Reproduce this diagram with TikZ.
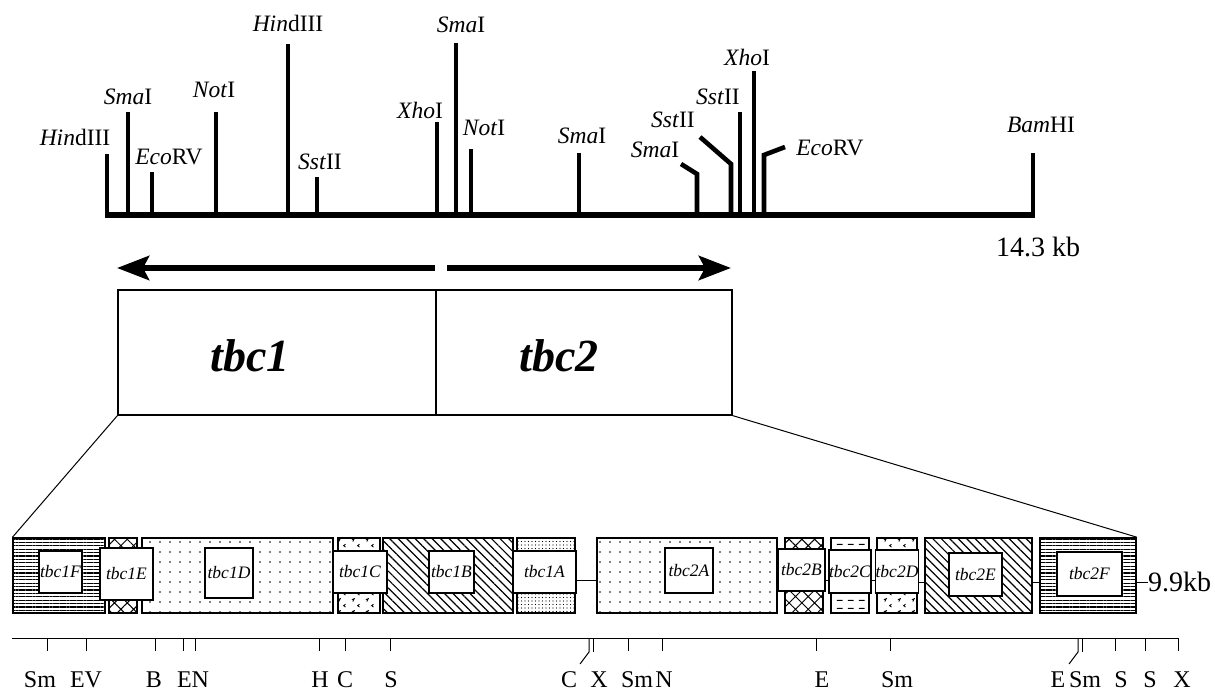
\documentclass[tikz,border=0pt]{standalone}
\usepackage{fontspec}
\setmainfont{Liberation Serif}
\usetikzlibrary{arrows.meta,patterns,patterns.meta}

\pgfdeclarepatternformonly{wavymarks}{\pgfqpoint{0pt}{0pt}}{\pgfqpoint{14pt}{12pt}}{\pgfqpoint{14pt}{12pt}}{%
  \pgfsetlinewidth{0.9pt}%
  \pgfpathmoveto{\pgfqpoint{2pt}{9pt}}\pgfpathlineto{\pgfqpoint{4.5pt}{10pt}}\pgfpathlineto{\pgfqpoint{3pt}{7pt}}%
  \pgfpathmoveto{\pgfqpoint{10pt}{4pt}}\pgfpathlineto{\pgfqpoint{8pt}{2.5pt}}\pgfpathlineto{\pgfqpoint{10pt}{1pt}}%
  \pgfusepath{stroke}}
\pgfdeclarepatternformonly{dashrows}{\pgfqpoint{0pt}{0pt}}{\pgfqpoint{11pt}{8pt}}{\pgfqpoint{11pt}{8pt}}{%
  \pgfsetlinewidth{1.3pt}%
  \pgfpathmoveto{\pgfqpoint{1pt}{4pt}}\pgfpathlineto{\pgfqpoint{7pt}{4pt}}\pgfusepath{stroke}}

\begin{document}
\begin{tikzpicture}[x=1pt,y=-1pt,
  sitetick/.style={line width=4.6pt, line join=miter},
  sitelabel/.style={font=\fontsize{23.5}{23.5}\selectfont, inner sep=0pt},
  bigbox/.style={draw, line width=1.2pt, minimum height=125pt, inner sep=0pt},
  biglabel/.style={inner sep=0pt, font=\fontsize{46}{46}\selectfont\bfseries\itshape},
  bigarrow/.style={line width=6pt, -{Stealth[length=32pt,width=24pt,inset=6pt]}},
  genebox/.style={draw, line width=1.6pt, minimum height=75pt, inner sep=0pt},
  genelabel/.style={draw, fill=white, line width=1.4pt, inner sep=0pt,
                    font=\fontsize{17.5}{17.5}\selectfont\itshape},
  hlines/.style={pattern={Lines[angle=0,distance=3.4pt,line width=1.3pt]}},
  nwlines/.style={pattern={Lines[angle=-45,distance=6pt,line width=1.2pt]}},
  xhatch/.style={pattern={Hatch[angle=45,distance=9pt,line width=1pt]}},
  sparsedots/.style={pattern={Dots[distance=10pt,radius=0.8pt]}},
  finedots/.style={pattern={Dots[distance=3.5pt,radius=0.6pt]}},
  wavy/.style={pattern=wavymarks},
  dashes/.style={pattern=dashrows},
  conn/.style={line width=1pt},
  scaleline/.style={line width=0.8pt},
  scaletick/.style={line width=1pt},
  scalelabel/.style={font=\fontsize{24}{24}\selectfont, inner sep=0pt},
  kblabel/.style={font=\fontsize{28}{28}\selectfont, inner sep=0pt}
]
\useasboundingbox (0,0) rectangle (1215,692);

% ---------- restriction map ----------
\draw[line width=6pt] (105,215) -- (1035,215);
\draw[sitetick] (107,215) -- (107,154);
\draw[sitetick] (128,215) -- (128,112);
\draw[sitetick] (152,215) -- (152,172);
\draw[sitetick] (216,215) -- (216,112);
\draw[sitetick] (288,215) -- (288,44);
\draw[sitetick] (317,215) -- (317,177);
\draw[sitetick] (437,215) -- (437,122);
\draw[sitetick] (456,215) -- (456,43);
\draw[sitetick] (471,215) -- (471,149);
\draw[sitetick] (579,215) -- (579,153);
\draw[sitetick] (697,215) -- (697,174) -- (681,164);
\draw[sitetick] (731,215) -- (731,164) -- (700,137);
\draw[sitetick] (740,215) -- (740,112);
\draw[sitetick] (754,215) -- (754,71);
\draw[sitetick] (764,215) -- (764,155) -- (785,147);
\draw[sitetick] (1033,215) -- (1033,153);

\node[sitelabel] (s1)  at (75,137)  {\textit{Hin}dIII};
\node[sitelabel] (s2)  at (128,97)  {\textit{Sma}I};
\node[sitelabel] (s3)  at (169,157) {\textit{Eco}RV};
\node[sitelabel] (s4)  at (214,90)  {\textit{Not}I};
\node[sitelabel] (s5)  at (288,23)  {\textit{Hin}dIII};
\node[sitelabel] (s6)  at (320,162) {\textit{Sst}II};
\node[sitelabel] (s7)  at (420,110) {\textit{Xho}I};
\node[sitelabel] (s8)  at (461,25)  {\textit{Sma}I};
\node[sitelabel] (s9)  at (484,128) {\textit{Not}I};
\node[sitelabel] (s10) at (582,136) {\textit{Sma}I};
\node[sitelabel] (s11) at (655,150) {\textit{Sma}I};
\node[sitelabel] (s12) at (673,120) {\textit{Sst}II};
\node[sitelabel] (s13) at (718,97)  {\textit{Sst}II};
\node[sitelabel] (s14) at (747,57)  {\textit{Xho}I};
\node[sitelabel] (s15) at (830,148) {\textit{Eco}RV};
\node[sitelabel] (s16) at (1041,125) {\textit{Bam}HI};
\node[kblabel] (kb143) at (1038,247) {14.3 kb};

% ---------- transcription arrows ----------
\coordinate (aL) at (117,268);
\coordinate (aM1) at (435,268);
\coordinate (aM2) at (447,268);
\coordinate (aR) at (731,268);
\draw[bigarrow] (aM1) -- (aL);
\draw[bigarrow] (aM2) -- (aR);

% ---------- gene boxes ----------
\node[bigbox, minimum width=318pt] (tbcA) at (277,352.5) {};
\node[bigbox, minimum width=296pt] (tbcB) at (584,352.5) {};
\node[biglabel] (tbcAl) at (250,356) {tbc1};
\node[biglabel] (tbcBl) at (559,356) {tbc2};

% ---------- exon blocks ----------
\node[genebox, hlines,     minimum width=92pt]  (g1F) at (59,575.5) {};
\node[genebox, xhatch,     minimum width=28pt]  (g1E) at (123,575.5) {};
\node[genebox, sparsedots, minimum width=191pt] (g1D) at (237.5,575.5) {};
\node[genebox, wavy,       minimum width=42pt]  (g1C) at (359,575.5) {};
\node[genebox, nwlines,    minimum width=130pt] (g1B) at (448,575.5) {};
\node[genebox, finedots,   minimum width=58pt]  (g1A) at (546,575.5) {};
\node[genebox, sparsedots, minimum width=180pt] (g2A) at (687,575.5) {};
\node[genebox, xhatch,     minimum width=38pt]  (g2B) at (804,575.5) {};
\node[genebox, dashes,     minimum width=38pt]  (g2C) at (850,575.5) {};
\node[genebox, wavy,       minimum width=40pt]  (g2D) at (897,575.5) {};
\node[genebox, nwlines,    minimum width=107pt] (g2E) at (978.5,575.5) {};
\node[genebox, hlines,     minimum width=96pt]  (g2F) at (1088,575.5) {};

\node[genelabel, minimum width=43pt, minimum height=42pt] (l1F) at (60.5,572) {tbc1F};
\node[genelabel, minimum width=53pt, minimum height=52pt] (l1E) at (126.5,574) {tbc1E};
\node[genelabel, minimum width=48pt, minimum height=50pt] (l1D) at (229,573) {tbc1D};
\node[genelabel, minimum width=54pt, minimum height=42pt] (l1C) at (360,572) {tbc1C};
\node[genelabel, minimum width=45pt, minimum height=42pt] (l1B) at (451.5,572) {tbc1B};
\node[genelabel, minimum width=63pt, minimum height=42pt] (l1A) at (544.5,572) {tbc1A};
\node[genelabel, minimum width=48pt, minimum height=45pt] (l2A) at (689,570.5) {tbc2A};
\node[genelabel, minimum width=47pt, minimum height=42pt] (l2B) at (801.5,570) {tbc2B};
\node[genelabel, minimum width=38pt, minimum height=43pt] (l2C) at (850,571.5) {tbc2C};
\node[genelabel, minimum width=40pt, minimum height=43pt] (l2D) at (897,571.5) {tbc2D};
\node[genelabel, minimum width=53pt, minimum height=43pt] (l2E) at (975.5,574.5) {tbc2E};
\node[genelabel, minimum width=65pt, minimum height=44pt] (l2F) at (1089.5,574) {tbc2F};

\node[kblabel, anchor=west] (kb99) at (1148,582) {9.9kb};

% connectors between exon blocks
\coordinate (ya) at (0,580);
\coordinate (yb) at (0,582);
\draw[conn] (l1A.east |- ya) -- (g2A.west |- ya);
\draw[conn] (l2B.east |- ya) -- (g2C.west |- ya);
\draw[conn] (g2C.east |- ya) -- (g2D.west |- ya);
\draw[conn] (g2D.east |- yb) -- (g2E.west |- yb);
\draw[conn] (g2E.east |- yb) -- (g2F.west |- yb);
\draw[conn] (g2F.east |- yb) -- (kb99.west |- yb);

% expansion lines
\draw[line width=1pt] (tbcA.south west) -- (g1F.north west);
\draw[line width=1pt] (tbcB.south east) -- (g2F.north east);

% ---------- lower scale ----------
\draw[scaleline] (12,638) -- (1178,638);
\foreach \x in {47,86,155,183,195,319,345,390,628,662,816,890,1115,1145,1178}
  \draw[scaletick] (\x,638) -- (\x,651);
\draw[scaletick] (589,638) -- (589,652) -- (580,664);
\draw[scaletick] (593,638) -- (593,652);
\draw[scaletick] (1078,638) -- (1078,652) -- (1069,664);
\draw[scaletick] (1082,638) -- (1082,652);

\node[scalelabel] (b1)  at (40,680)   {Sm};
\node[scalelabel] (b2)  at (86,680)   {EV};
\node[scalelabel] (b3)  at (154,680)  {B};
\node[scalelabel] (b4)  at (193,680)  {EN};
\node[scalelabel] (b5)  at (320,680)  {H};
\node[scalelabel] (b6)  at (345,680)  {C};
\node[scalelabel] (b7)  at (391,680)  {S};
\node[scalelabel] (b8)  at (569,680)  {C};
\node[scalelabel] (b9)  at (599,680)  {X};
\node[scalelabel] (b10) at (637,680)  {Sm};
\node[scalelabel] (b11) at (664,680)  {N};
\node[scalelabel] (b12) at (822,680)  {E};
\node[scalelabel] (b13) at (897,680)  {Sm};
\node[scalelabel] (b14) at (1058,680) {E};
\node[scalelabel] (b15) at (1085,680) {Sm};
\node[scalelabel] (b16) at (1121,680) {S};
\node[scalelabel] (b17) at (1150,680) {S};
\node[scalelabel] (b18) at (1182,680) {X};
\end{tikzpicture}
\end{document}
